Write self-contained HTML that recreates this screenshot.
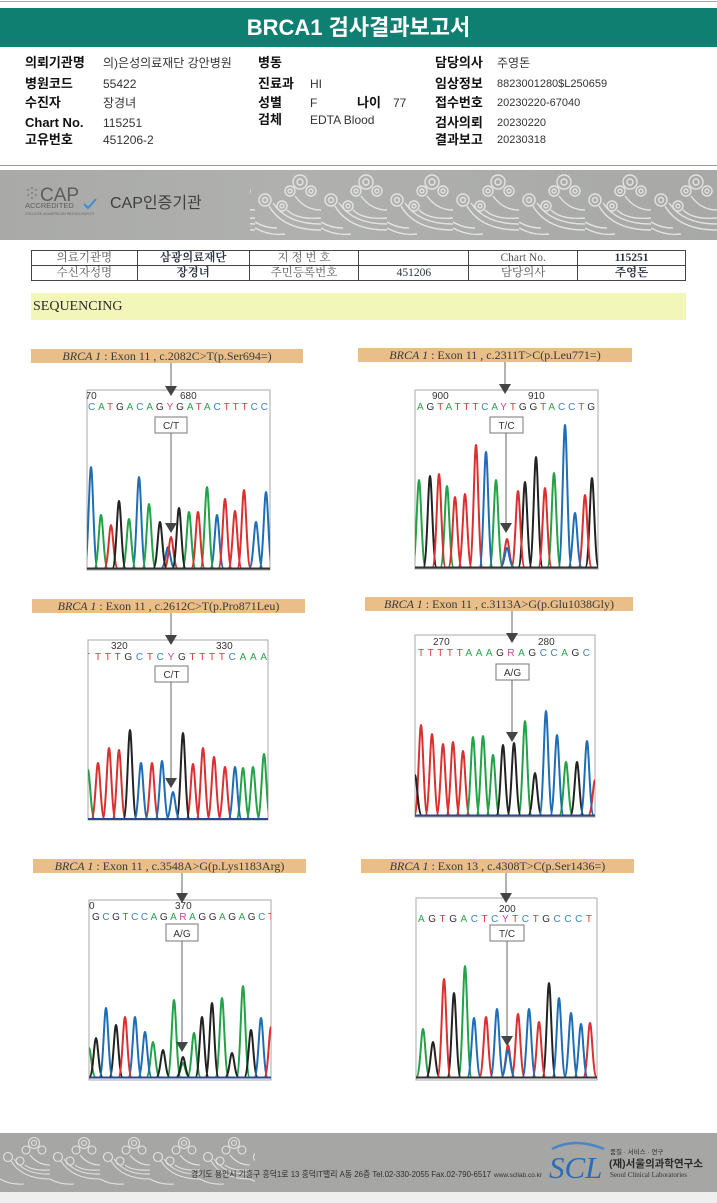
<!DOCTYPE html>
<html><head><meta charset="utf-8">
<style>
*{margin:0;padding:0;box-sizing:border-box}
html,body{width:717px;height:1203px;overflow:hidden;background:#fff}
body{position:relative;font-family:"Liberation Sans","Noto Sans CJK KR",sans-serif;color:#222}
.abs{position:absolute;white-space:nowrap}
.lb{font-weight:bold;font-size:13px;line-height:16px;color:#111}
.vl{font-size:12px;line-height:16px;color:#333}
.bar{position:absolute;height:14px;background:#e9be89;font-family:"Liberation Serif","Noto Serif CJK SC",serif;font-size:12px;line-height:14px;color:#3a3a3a;text-align:center;white-space:nowrap}
.bar i{font-style:italic}
table{border-collapse:collapse;position:absolute;left:31px;top:250px;width:655px;height:31px;border:1.5px solid #333;font-family:"Liberation Serif","Noto Serif CJK SC",serif;font-size:11.5px;color:#555}
td{border:1px solid #444;text-align:center;height:15px;line-height:13px;padding:0}
td.b{font-weight:bold;color:#2a3140}
</style></head><body>

<div class="abs" style="left:0;top:1px;width:717px;height:1px;background:#aaa"></div>
<div class="abs" style="left:0;top:8px;width:717px;height:39px;background:#0f7f72"></div>
<div class="abs" style="left:0;top:8px;width:717px;height:39px;line-height:39px;text-align:center;color:#fff;font-weight:bold;font-size:22px;font-family:'Liberation Sans','Noto Sans CJK KR',sans-serif">BRCA1 검사결과보고서</div>

<!-- info col1 -->
<div class="abs lb" style="left:25px;top:55px">의뢰기관명</div>
<div class="abs vl" style="left:103px;top:55px">의)은성의료재단 강안병원</div>
<div class="abs lb" style="left:25px;top:76px">병원코드</div>
<div class="abs vl" style="left:103px;top:76px">55422</div>
<div class="abs lb" style="left:25px;top:95px">수진자</div>
<div class="abs vl" style="left:103px;top:95px">장경녀</div>
<div class="abs lb" style="left:25px;top:115px">Chart No.</div>
<div class="abs vl" style="left:103px;top:115px">115251</div>
<div class="abs lb" style="left:25px;top:132px">고유번호</div>
<div class="abs vl" style="left:103px;top:132px">451206-2</div>
<!-- col2 -->
<div class="abs lb" style="left:258px;top:55px">병동</div>
<div class="abs lb" style="left:258px;top:76px">진료과</div>
<div class="abs vl" style="left:310px;top:76px">HI</div>
<div class="abs lb" style="left:258px;top:95px">성별</div>
<div class="abs vl" style="left:310px;top:95px">F</div>
<div class="abs lb" style="left:357px;top:95px">나이</div>
<div class="abs vl" style="left:393px;top:95px">77</div>
<div class="abs lb" style="left:258px;top:112px">검체</div>
<div class="abs vl" style="left:310px;top:112px">EDTA Blood</div>
<!-- col3 -->
<div class="abs lb" style="left:435px;top:55px">담당의사</div>
<div class="abs vl" style="left:497px;top:55px">주영돈</div>
<div class="abs lb" style="left:435px;top:76px">임상정보</div>
<div class="abs vl" style="left:497px;top:76px;font-size:11px">8823001280$L250659</div>
<div class="abs lb" style="left:435px;top:95px">접수번호</div>
<div class="abs vl" style="left:497px;top:95px;font-size:11px">20230220-67040</div>
<div class="abs lb" style="left:435px;top:115px">검사의뢰</div>
<div class="abs vl" style="left:497px;top:115px;font-size:11px">20230220</div>
<div class="abs lb" style="left:435px;top:132px">결과보고</div>
<div class="abs vl" style="left:497px;top:132px;font-size:11px">20230318</div>

<div class="abs" style="left:0;top:165px;width:717px;height:1px;background:#9a9a9a"></div>

<!-- CAP banner -->
<div class="abs" style="left:0;top:170px;width:717px;height:70px;background:linear-gradient(90deg,#a9aaa8,#b0b1af 40%,#a8a9a7)"></div>
<svg class="abs" style="left:0;top:170px" width="717" height="70">
<defs><pattern id="wv" width="66" height="70" patternUnits="userSpaceOnUse" x="255" y="0">
<g fill="none" stroke="#ececec" stroke-width="1.4" opacity="0.85">
<circle cx="45" cy="12" r="7"/><circle cx="45" cy="12" r="3"/>
<circle cx="35" cy="21" r="5"/><circle cx="56" cy="21" r="5"/><circle cx="35" cy="21" r="2"/><circle cx="56" cy="21" r="2"/>
<circle cx="10" cy="30" r="6"/><circle cx="10" cy="30" r="2.5"/>
<circle cx="27" cy="36" r="5"/><circle cx="27" cy="36" r="2"/>
<path d="M14 36Q28 60 66 60"/><path d="M18 33Q32 54 66 54"/><path d="M32 40Q42 50 66 48"/>
<path d="M0 58Q14 66 30 64"/><path d="M0 52Q10 58 22 58"/><path d="M40 26Q50 40 66 40"/>
</g></pattern></defs>
<rect x="250" y="2" width="467" height="66" fill="url(#wv)"/>
<g fill="#8a8a8a"><circle cx="28" cy="20" r="1.2"/><circle cx="32" cy="18" r="1.2"/><circle cx="36" cy="20" r="1.2"/><circle cx="28" cy="25" r="1.2"/><circle cx="32" cy="23" r="1.2"/><circle cx="36" cy="25" r="1.2"/><circle cx="32" cy="28" r="1.2"/></g>
<text x="40" y="31" font-family="Liberation Sans" font-size="19" fill="#5e5e5e">CAP</text>
<text x="25" y="38" font-family="Liberation Sans" font-size="7.5" fill="#5e5e5e">ACCREDITED</text>
<path d="M84 34l4 4 8-9" fill="none" stroke="#3a8fd0" stroke-width="2"/>
<text x="25" y="45" font-family="Liberation Sans" font-size="3.6" fill="#666">COLLEGE of AMERICAN PATHOLOGISTS</text>
<text x="110" y="38" font-family="Liberation Sans,Noto Sans CJK KR,sans-serif" font-size="16" fill="#3f3f3f">CAP인증기관</text>
</svg>

<table>
<tr><td style="width:106px">의료기관명</td><td class="b" style="width:112px">삼광의료재단</td><td style="width:110px">지 정 번 호</td><td style="width:110px"></td><td style="width:109px">Chart No.</td><td class="b" style="width:108px">115251</td></tr>
<tr><td>수신자성명</td><td class="b">장경녀</td><td>주민등록번호</td><td style="color:#2a3140">451206</td><td>담당의사</td><td class="b">주영돈</td></tr>
</table>

<div class="abs" style="left:31px;top:293px;width:655px;height:27px;background:#f3f6b9"></div>
<div class="abs" style="left:33px;top:299px;font-family:'Liberation Serif',serif;font-size:14px;line-height:16px;color:#2a2a2a">SEQUENCING</div>

<!-- label bars -->
<div class="bar" style="left:31px;top:349px;width:272px"><i>BRCA 1</i> : Exon 11 , c.2082C&gt;T(p.Ser694=)</div>
<div class="bar" style="left:358px;top:348px;width:274px"><i>BRCA 1</i> : Exon 11 , c.2311T&gt;C(p.Leu771=)</div>
<div class="bar" style="left:32px;top:599px;width:273px"><i>BRCA 1</i> : Exon 11 , c.2612C&gt;T(p.Pro871Leu)</div>
<div class="bar" style="left:365px;top:597px;width:268px"><i>BRCA 1</i> : Exon 11 , c.3113A&gt;G(p.Glu1038Gly)</div>
<div class="bar" style="left:33px;top:859px;width:273px"><i>BRCA 1</i> : Exon 11 , c.3548A&gt;G(p.Lys1183Arg)</div>
<div class="bar" style="left:361px;top:859px;width:273px"><i>BRCA 1</i> : Exon 13 , c.4308T&gt;C(p.Ser1436=)</div>

<svg class="abs" style="left:0;top:0" width="717" height="1203">
<style>
.a{fill:#2ba24c}.c{fill:#3b82c4}.g{fill:#333}.t{fill:#d83a3a}.y{fill:#c4488a}
.sq{font-family:"Liberation Sans",sans-serif;font-size:10px}
.nm{font-family:"Liberation Sans",sans-serif;font-size:10px;fill:#333}
.bx{fill:#fff;stroke:#a8a8a8;stroke-width:1}
.pB,.pG,.pR,.pK{fill:none;stroke-width:2;stroke-linejoin:round}
.pB{stroke:#1f6db5}.pG{stroke:#23a247}.pR{stroke:#da3030}.pK{stroke:#222}
.ln{stroke:#666;stroke-width:1}
.hd{fill:#444}
.vb{fill:#fff;stroke:#777;stroke-width:1}
.vt{font-family:"Liberation Sans",sans-serif;font-size:10px;fill:#333;text-anchor:middle}
</style>
<defs>
<clipPath id="c1"><rect x="87" y="390" width="183" height="180"/></clipPath>
<clipPath id="c2"><rect x="415" y="390" width="183" height="179"/></clipPath>
<clipPath id="c3"><rect x="88" y="640" width="180" height="180"/></clipPath>
<clipPath id="c4"><rect x="415" y="635" width="180" height="182"/></clipPath>
<clipPath id="c5"><rect x="89" y="900" width="182" height="180"/></clipPath>
<clipPath id="c6"><rect x="416" y="898" width="181" height="182"/></clipPath>
</defs>

<!-- Panel 1 -->
<rect class="bx" x="87" y="390" width="183" height="180"/>
<g clip-path="url(#c1)">
<text class="nm" x="80" y="399">670</text><text class="nm" x="180" y="399">680</text>
<text class="sq" x="88" y="410" textLength="180" lengthAdjust="spacing"><tspan class="c">C</tspan><tspan class="a">A</tspan><tspan class="t">T</tspan><tspan class="g">G</tspan><tspan class="a">A</tspan><tspan class="c">C</tspan><tspan class="a">A</tspan><tspan class="g">G</tspan><tspan class="y">Y</tspan><tspan class="g">G</tspan><tspan class="a">A</tspan><tspan class="t">T</tspan><tspan class="a">A</tspan><tspan class="c">C</tspan><tspan class="t">T</tspan><tspan class="t">T</tspan><tspan class="t">T</tspan><tspan class="c">C</tspan><tspan class="c">C</tspan></text>
<path class="pB" d="M84.5 568c3.5 0 4.7-101 6.5-101s3 101 6.5 101M132.5 568c3.5 0 4.7-91 6.5-91s3 91 6.5 91M161.5 568c3.5 0 4.7-21 6.5-21s3 21 6.5 21M210.5 568c3.5 0 4.7-53 6.5-53s3 53 6.5 53M249.5 568c3.5 0 4.7-46 6.5-46s3 46 6.5 46M259.5 568c3.5 0 4.7-76 6.5-76s3 76 6.5 76"/>
<path class="pG" d="M94.5 568c3.5 0 4.7-53 6.5-53s3 53 6.5 53M122.5 568c3.5 0 4.7-49 6.5-49s3 49 6.5 49M142.5 568c3.5 0 4.7-64 6.5-64s3 64 6.5 64M182.5 568c3.5 0 4.7-56 6.5-56s3 56 6.5 56M200.5 568c3.5 0 4.7-81 6.5-81s3 81 6.5 81"/>
<path class="pR" d="M104.5 568c3.5 0 4.7-43 6.5-43s3 43 6.5 43M164.5 568c3.5 0 4.7-31 6.5-31s3 31 6.5 31M191.5 568c3.5 0 4.7-56 6.5-56s3 56 6.5 56M218.5 568c3.5 0 4.7-69 6.5-69s3 69 6.5 69M228.5 568c3.5 0 4.7-57 6.5-57s3 57 6.5 57M237.5 568c3.5 0 4.7-78 6.5-78s3 78 6.5 78"/>
<path class="pK" d="M112.5 568c3.5 0 4.7-67 6.5-67s3 67 6.5 67M153.5 568c3.5 0 4.7-46 6.5-46s3 46 6.5 46M172.5 568c3.5 0 4.7-60 6.5-60s3 60 6.5 60"/>
<line x1="87" y1="568.5" x2="270" y2="568.5" stroke="#333" stroke-width="2"/>
</g>
<line class="ln" x1="171" y1="363" x2="171" y2="387"/><path class="hd" d="M165 386h12l-6 10z"/>
<rect class="vb" x="155" y="417" width="32" height="16"/><text class="vt" x="171" y="429">C/T</text>
<line class="ln" x1="171" y1="433" x2="171" y2="524"/><path class="hd" d="M165 523h12l-6 10z"/>

<!-- Panel 2 -->
<rect class="bx" x="415" y="390" width="183" height="179"/>
<g clip-path="url(#c2)">
<text class="nm" x="432" y="399">900</text><text class="nm" x="528" y="399">910</text>
<text class="sq" x="417" y="410" textLength="178" lengthAdjust="spacing"><tspan class="a">A</tspan><tspan class="g">G</tspan><tspan class="t">T</tspan><tspan class="a">A</tspan><tspan class="t">T</tspan><tspan class="t">T</tspan><tspan class="t">T</tspan><tspan class="c">C</tspan><tspan class="a">A</tspan><tspan class="y">Y</tspan><tspan class="t">T</tspan><tspan class="g">G</tspan><tspan class="g">G</tspan><tspan class="t">T</tspan><tspan class="a">A</tspan><tspan class="c">C</tspan><tspan class="c">C</tspan><tspan class="t">T</tspan><tspan class="g">G</tspan></text>
<path class="pG" d="M412.5 567c3.5 0 4.7-87 6.5-87s3 87 6.5 87M440.5 567c3.5 0 4.7-81 6.5-81s3 81 6.5 81M489.5 567c3.5 0 4.7-87 6.5-87s3 87 6.5 87M547.5 567c3.5 0 4.7-94 6.5-94s3 94 6.5 94"/>
<path class="pK" d="M423.5 567c3.5 0 4.7-91 6.5-91s3 91 6.5 91M518.5 567c3.5 0 4.7-85 6.5-85s3 85 6.5 85M529.5 567c3.5 0 4.7-110 6.5-110s3 110 6.5 110M585.5 567c3.5 0 4.7-89 6.5-89s3 89 6.5 89"/>
<path class="pR" d="M432.5 567c3.5 0 4.7-93 6.5-93s3 93 6.5 93M448.5 567c3.5 0 4.7-70 6.5-70s3 70 6.5 70M458.5 567c3.5 0 4.7-73 6.5-73s3 73 6.5 73M469.5 567c3.5 0 4.7-122 6.5-122s3 122 6.5 122M500.5 567c3.5 0 4.7-28 6.5-28s3 28 6.5 28M511.5 567c3.5 0 4.7-76 6.5-76s3 76 6.5 76M538.5 567c3.5 0 4.7-79 6.5-79s3 79 6.5 79M578.5 567c3.5 0 4.7-72 6.5-72s3 72 6.5 72"/>
<path class="pB" d="M479.5 567c3.5 0 4.7-115 6.5-115s3 115 6.5 115M500.5 567c3.5 0 4.7-19 6.5-19s3 19 6.5 19M558.5 567c3.5 0 4.7-142 6.5-142s3 142 6.5 142M568.5 567c3.5 0 4.7-54 6.5-54s3 54 6.5 54"/>
<line x1="415" y1="567.5" x2="598" y2="567.5" stroke="#333" stroke-width="2"/>
</g>
<line class="ln" x1="505" y1="362" x2="505" y2="385"/><path class="hd" d="M499 384h12l-6 10z"/>
<rect class="vb" x="490" y="417" width="33" height="16"/><text class="vt" x="506.5" y="429">T/C</text>
<line class="ln" x1="506" y1="433" x2="506" y2="524"/><path class="hd" d="M500 523h12l-6 10z"/>

<!-- Panel 3 -->
<rect class="bx" x="88" y="640" width="180" height="180"/>
<g clip-path="url(#c3)">
<text class="nm" x="111" y="649">320</text><text class="nm" x="216" y="649">330</text>
<text class="sq t" x="84" y="660">T</text>
<text class="sq" x="95" y="660" textLength="172" lengthAdjust="spacing"><tspan class="t">T</tspan><tspan class="t">T</tspan><tspan class="t">T</tspan><tspan class="g">G</tspan><tspan class="c">C</tspan><tspan class="t">T</tspan><tspan class="c">C</tspan><tspan class="y">Y</tspan><tspan class="g">G</tspan><tspan class="t">T</tspan><tspan class="t">T</tspan><tspan class="t">T</tspan><tspan class="t">T</tspan><tspan class="c">C</tspan><tspan class="a">A</tspan><tspan class="a">A</tspan><tspan class="a">A</tspan></text>
<path class="pG" d="M81.5 819c3.5 0 4.7-49 6.5-49s3 49 6.5 49M236.5 819c3.5 0 4.7-51 6.5-51s3 51 6.5 51M246.5 819c3.5 0 4.7-52 6.5-52s3 52 6.5 52M257.5 819c3.5 0 4.7-65 6.5-65s3 65 6.5 65"/>
<path class="pR" d="M91.5 819c3.5 0 4.7-56 6.5-56s3 56 6.5 56M102.5 819c3.5 0 4.7-71 6.5-71s3 71 6.5 71M112.5 819c3.5 0 4.7-69 6.5-69s3 69 6.5 69M145.5 819c3.5 0 4.7-56 6.5-56s3 56 6.5 56M186.5 819c3.5 0 4.7-55 6.5-55s3 55 6.5 55M196.5 819c3.5 0 4.7-71 6.5-71s3 71 6.5 71M207.5 819c3.5 0 4.7-62 6.5-62s3 62 6.5 62M218.5 819c3.5 0 4.7-52 6.5-52s3 52 6.5 52"/>
<path class="pK" d="M123.5 819c3.5 0 4.7-89 6.5-89s3 89 6.5 89M176.5 819c3.5 0 4.7-86 6.5-86s3 86 6.5 86"/>
<path class="pB" d="M134.5 819c3.5 0 4.7-56 6.5-56s3 56 6.5 56M155.5 819c3.5 0 4.7-58 6.5-58s3 58 6.5 58M166.5 819c3.5 0 4.7-27 6.5-27s3 27 6.5 27M228.5 819c3.5 0 4.7-52 6.5-52s3 52 6.5 52"/>
<line x1="88" y1="819" x2="268" y2="819" stroke="#2a4a8a" stroke-width="2"/>
</g>
<line class="ln" x1="171" y1="613" x2="171" y2="636"/><path class="hd" d="M165 635h12l-6 10z"/>
<rect class="vb" x="155" y="666" width="33" height="16"/><text class="vt" x="171.5" y="678">C/T</text>
<line class="ln" x1="171" y1="682" x2="171" y2="779"/><path class="hd" d="M165 778h12l-6 10z"/>

<!-- Panel 4 -->
<rect class="bx" x="415" y="635" width="180" height="182"/>
<g clip-path="url(#c4)">
<text class="nm" x="433" y="645">270</text><text class="nm" x="538" y="645">280</text>
<text class="sq" x="418" y="656" textLength="172" lengthAdjust="spacing"><tspan class="t">T</tspan><tspan class="t">T</tspan><tspan class="t">T</tspan><tspan class="t">T</tspan><tspan class="t">T</tspan><tspan class="a">A</tspan><tspan class="a">A</tspan><tspan class="a">A</tspan><tspan class="g">G</tspan><tspan class="y">R</tspan><tspan class="a">A</tspan><tspan class="g">G</tspan><tspan class="c">C</tspan><tspan class="c">C</tspan><tspan class="a">A</tspan><tspan class="g">G</tspan><tspan class="c">C</tspan></text>
<path class="pR" d="M414.5 815c3.5 0 4.7-90 6.5-90s3 90 6.5 90M425.5 815c3.5 0 4.7-81 6.5-81s3 81 6.5 81M436.5 815c3.5 0 4.7-71 6.5-71s3 71 6.5 71M446.5 815c3.5 0 4.7-73 6.5-73s3 73 6.5 73M456.5 815c3.5 0 4.7-64 6.5-64s3 64 6.5 64M588.5 815c3.5 0 4.7-35 6.5-35s3 35 6.5 35"/>
<path class="pG" d="M466.5 815c3.5 0 4.7-78 6.5-78s3 78 6.5 78M476.5 815c3.5 0 4.7-79 6.5-79s3 79 6.5 79M486.5 815c3.5 0 4.7-60 6.5-60s3 60 6.5 60M518.5 815c3.5 0 4.7-94 6.5-94s3 94 6.5 94M559.5 815c3.5 0 4.7-53 6.5-53s3 53 6.5 53"/>
<path class="pK" d="M496.5 815c3.5 0 4.7-70 6.5-70s3 70 6.5 70M507.5 815c3.5 0 4.7-72 6.5-72s3 72 6.5 72M528.5 815c3.5 0 4.7-42 6.5-42s3 42 6.5 42M570.5 815c3.5 0 4.7-53 6.5-53s3 53 6.5 53M408.5 815c3.5 0 4.7-40 6.5-40s3 40 6.5 40"/>
<path class="pB" d="M539.5 815c3.5 0 4.7-104 6.5-104s3 104 6.5 104M550.5 815c3.5 0 4.7-80 6.5-80s3 80 6.5 80M580.5 815c3.5 0 4.7-74 6.5-74s3 74 6.5 74"/>
<line x1="415" y1="815.5" x2="595" y2="815.5" stroke="#2a4a8a" stroke-width="2"/>
</g>
<line class="ln" x1="512" y1="611" x2="512" y2="634"/><path class="hd" d="M506 633h12l-6 10z"/>
<rect class="vb" x="496" y="664" width="33" height="16"/><text class="vt" x="512.5" y="676">A/G</text>
<line class="ln" x1="512" y1="680" x2="512" y2="733"/><path class="hd" d="M506 732h12l-6 10z"/>

<!-- Panel 5 -->
<rect class="bx" x="89" y="900" width="182" height="180"/>
<g clip-path="url(#c5)">
<text class="nm" x="89" y="909">0</text><text class="nm" x="175" y="909">370</text>
<text class="sq" x="92" y="920" textLength="182" lengthAdjust="spacing"><tspan class="g">G</tspan><tspan class="c">C</tspan><tspan class="g">G</tspan><tspan class="t">T</tspan><tspan class="c">C</tspan><tspan class="c">C</tspan><tspan class="a">A</tspan><tspan class="g">G</tspan><tspan class="a">A</tspan><tspan class="y">R</tspan><tspan class="a">A</tspan><tspan class="g">G</tspan><tspan class="g">G</tspan><tspan class="a">A</tspan><tspan class="g">G</tspan><tspan class="a">A</tspan><tspan class="g">G</tspan><tspan class="c">C</tspan><tspan class="t">T</tspan></text>
<path class="pG" d="M82.5 1077c3.5 0 4.7-29 6.5-29s3 29 6.5 29M146.5 1077c3.5 0 4.7-35 6.5-35s3 35 6.5 35M167.5 1077c3.5 0 4.7-77 6.5-77s3 77 6.5 77M176.5 1077c3.5 0 4.7-14 6.5-14s3 14 6.5 14M187.5 1077c3.5 0 4.7-44 6.5-44s3 44 6.5 44M215.5 1077c3.5 0 4.7-79 6.5-79s3 79 6.5 79M236.5 1077c3.5 0 4.7-91 6.5-91s3 91 6.5 91"/>
<path class="pK" d="M89.5 1077c3.5 0 4.7-39 6.5-39s3 39 6.5 39M109.5 1077c3.5 0 4.7-52 6.5-52s3 52 6.5 52M156.5 1077c3.5 0 4.7-27 6.5-27s3 27 6.5 27M176.5 1077c3.5 0 4.7-20 6.5-20s3 20 6.5 20M195.5 1077c3.5 0 4.7-60 6.5-60s3 60 6.5 60M205.5 1077c3.5 0 4.7-74 6.5-74s3 74 6.5 74M225.5 1077c3.5 0 4.7-24 6.5-24s3 24 6.5 24M244.5 1077c3.5 0 4.7-47 6.5-47s3 47 6.5 47"/>
<path class="pB" d="M99.5 1077c3.5 0 4.7-69 6.5-69s3 69 6.5 69M128.5 1077c3.5 0 4.7-60 6.5-60s3 60 6.5 60M138.5 1077c3.5 0 4.7-45 6.5-45s3 45 6.5 45M254.5 1077c3.5 0 4.7-59 6.5-59s3 59 6.5 59"/>
<path class="pR" d="M118.5 1077c3.5 0 4.7-60 6.5-60s3 60 6.5 60M264.5 1077c3.5 0 4.7-50 6.5-50s3 50 6.5 50"/>
<line x1="89" y1="1077.5" x2="271" y2="1077.5" stroke="#2a4a8a" stroke-width="2"/>
</g>
<line class="ln" x1="182" y1="873" x2="182" y2="894"/><path class="hd" d="M176 893h12l-6 10z"/>
<rect class="vb" x="166" y="924" width="32" height="17"/><text class="vt" x="182" y="937">A/G</text>
<line class="ln" x1="182" y1="941" x2="182" y2="1043"/><path class="hd" d="M176 1042h12l-6 10z"/>

<!-- Panel 6 -->
<rect class="bx" x="416" y="898" width="181" height="182"/>
<g clip-path="url(#c6)">
<text class="nm" x="499" y="912">200</text>
<text class="sq" x="418" y="922" textLength="174" lengthAdjust="spacing"><tspan class="a">A</tspan><tspan class="g">G</tspan><tspan class="t">T</tspan><tspan class="g">G</tspan><tspan class="a">A</tspan><tspan class="c">C</tspan><tspan class="t">T</tspan><tspan class="c">C</tspan><tspan class="y">Y</tspan><tspan class="t">T</tspan><tspan class="c">C</tspan><tspan class="t">T</tspan><tspan class="g">G</tspan><tspan class="c">C</tspan><tspan class="c">C</tspan><tspan class="c">C</tspan><tspan class="t">T</tspan></text>
<path class="pG" d="M416.5 1077c3.5 0 4.7-48 6.5-48s3 48 6.5 48M458.5 1077c3.5 0 4.7-111 6.5-111s3 111 6.5 111"/>
<path class="pK" d="M426.5 1077c3.5 0 4.7-35 6.5-35s3 35 6.5 35M447.5 1077c3.5 0 4.7-84 6.5-84s3 84 6.5 84M542.5 1077c3.5 0 4.7-94 6.5-94s3 94 6.5 94"/>
<path class="pR" d="M437.5 1077c3.5 0 4.7-98 6.5-98s3 98 6.5 98M479.5 1077c3.5 0 4.7-60 6.5-60s3 60 6.5 60M501.5 1077c3.5 0 4.7-32 6.5-32s3 32 6.5 32M511.5 1077c3.5 0 4.7-63 6.5-63s3 63 6.5 63M532.5 1077c3.5 0 4.7-55 6.5-55s3 55 6.5 55M583.5 1077c3.5 0 4.7-54 6.5-54s3 54 6.5 54"/>
<path class="pB" d="M467.5 1077c3.5 0 4.7-59 6.5-59s3 59 6.5 59M490.5 1077c3.5 0 4.7-68 6.5-68s3 68 6.5 68M501.5 1077c3.5 0 4.7-27 6.5-27s3 27 6.5 27M522.5 1077c3.5 0 4.7-68 6.5-68s3 68 6.5 68M552.5 1077c3.5 0 4.7-79 6.5-79s3 79 6.5 79M564.5 1077c3.5 0 4.7-64 6.5-64s3 64 6.5 64M574.5 1077c3.5 0 4.7-53 6.5-53s3 53 6.5 53"/>
<line x1="416" y1="1077.5" x2="597" y2="1077.5" stroke="#333" stroke-width="2"/>
</g>
<line class="ln" x1="506" y1="873" x2="506" y2="894"/><path class="hd" d="M500 893h12l-6 10z"/>
<rect class="vb" x="490" y="925" width="34" height="16"/><text class="vt" x="507" y="937">T/C</text>
<line class="ln" x1="507" y1="941" x2="507" y2="1037"/><path class="hd" d="M501 1036h12l-6 10z"/>
</svg>

<!-- Footer -->
<div class="abs" style="left:0;top:1133px;width:717px;height:59px;background:#a6a7a5"></div>
<div class="abs" style="left:0;top:1192px;width:717px;height:11px;background:#efefef"></div>
<svg class="abs" style="left:0;top:1133px" width="717" height="59">
<defs><pattern id="wv2" width="50" height="56" patternUnits="userSpaceOnUse" x="0" y="0">
<g fill="none" stroke="#ececec" stroke-width="1.1" opacity="0.85">
<circle cx="34" cy="10" r="5.5"/><circle cx="34" cy="10" r="2.5"/>
<circle cx="26" cy="17" r="4"/><circle cx="42" cy="17" r="4"/>
<circle cx="8" cy="24" r="4.5"/><circle cx="20" cy="28" r="4"/>
<path d="M11 28Q22 46 50 46"/><path d="M14 26Q25 42 50 41"/><path d="M25 32Q32 38 50 37"/>
<path d="M0 46Q10 52 24 51"/><path d="M30 22Q38 32 50 32"/>
</g></pattern></defs>
<rect x="0" y="2" width="255" height="54" fill="url(#wv2)"/>
<text x="191" y="44" font-family="Liberation Sans,Noto Sans CJK KR,sans-serif" font-size="8.6" fill="#2e2e2e" textLength="300" lengthAdjust="spacingAndGlyphs">경기도 용인시 기흥구 흥덕1로 13 흥덕IT밸리 A동 26층  Tel.02-330-2055  Fax.02-790-6517</text>
<text x="494" y="44" font-family="Liberation Sans,sans-serif" font-size="6.5" fill="#333">www.scllab.co.kr</text>
<path d="M552 16Q575 4 604 16" fill="none" stroke="#4a86c5" stroke-width="2.5"/>
<text x="549" y="45" font-family="Liberation Serif,serif" font-style="italic" font-size="31" fill="#2a6db5">SCL</text>
<text x="610" y="21" font-family="Liberation Sans,Noto Sans CJK KR,sans-serif" font-size="6.5" fill="#333">품질 · 서비스 · 연구</text>
<text x="609" y="34" font-family="Liberation Sans,Noto Sans CJK KR,sans-serif" font-size="10.5" font-weight="bold" fill="#2a2a2a">(재)서울의과학연구소</text>
<text x="610" y="44" font-family="Liberation Serif,serif" font-size="7" fill="#333">Seoul Clinical Laboratories</text>
</svg>

</body></html>
